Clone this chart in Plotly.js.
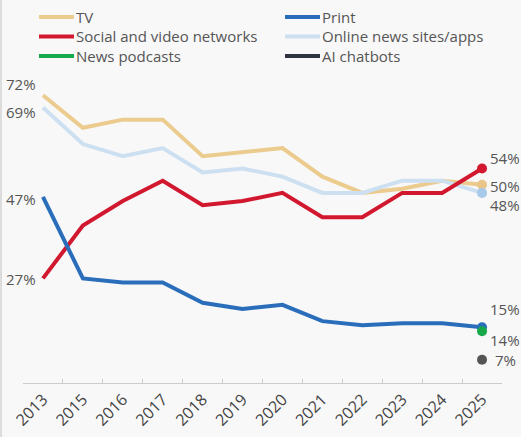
<!DOCTYPE html>
<html>
<head>
<meta charset="utf-8">
<script src="https://cdn.plot.ly/plotly-3.0.1.min.js"></script>
<style>
html,body{margin:0;padding:0;background:#f8f8f8;}
#chart{width:521px;height:437px;}
#edge{position:absolute;left:0;top:0;width:2px;height:437px;background:#dcdcdc;}
</style>
</head>
<body>
<div id="chart"></div>
<div id="edge"></div>
<script>
const years = ['2013','2015','2016','2017','2018','2019','2020','2021','2022','2023','2024','2025'];
const tv      = [72, 64, 66, 66, 57, 58, 59, 52, 48, 49, 51, 50];
const social  = [27, 40, 46, 51, 45, 46, 48, 42, 42, 48, 48, 54];
const online  = [69, 60, 57, 59, 53, 54, 52, 48, 48, 51, 51, 48];
const print   = [47, 27, 26, 26, 21, 19.5, 20.5, 16.5, 15.5, 16, 16, 15];
const podcastYears = ['2025'];
const podcasts = [14];
const aiYears = ['2025'];
const aiChatbots = [7];
const seriesNames = ['TV', 'Print', 'Social and video networks', 'Online news sites/apps', 'News podcasts', 'AI chatbots'];

const C = {
  tv: '#ebcb8e', tvDot: '#eac58a',
  print: '#2a6ebb',
  social: '#d2182f',
  online: '#cde0f1', onlineDot: '#a7c9ea',
  podcasts: '#16a84a',
  ai: '#2d3440', aiDot: '#555555'
};
const legendColors = [C.tv, C.print, C.social, C.online, C.podcasts, C.ai];

const last = a => a[a.length - 1];
const lastIdx = years.length - 1;
const lastYear = years[lastIdx];

function lineTrace(name, x, y, color) {
  return {type: 'scatter', mode: 'lines', name: name, x: x, y: y,
    line: {color: color, width: 4}, hoverinfo: 'skip', showlegend: false};
}
function dotTrace(x, y, color) {
  return {type: 'scatter', mode: 'markers', x: x, y: y, showlegend: false,
    marker: {color: color, size: 10}, hoverinfo: 'skip'};
}

const data = [
  lineTrace(seriesNames[0], years, tv, C.tv),
  lineTrace(seriesNames[3], years, online, C.online),
  lineTrace(seriesNames[2], years, social, C.social),
  lineTrace(seriesNames[1], years, print, C.print),
  dotTrace([lastYear], [last(tv)], C.tvDot),
  dotTrace([lastYear], [last(online)], C.onlineDot),
  dotTrace([lastYear], [last(social)], C.social),
  dotTrace([lastYear], [last(print)], C.print),
  dotTrace(podcastYears, podcasts, C.podcasts),
  dotTrace(aiYears, aiChatbots, C.aiDot)
];

// plot area geometry (pixels)
const W = 521, H = 437, ML = 23, MR = 19, MT = 83, MB = 54;
const PW = W - ML - MR, PH = H - MT - MB;
const px2x = p => (p - ML) / PW;
const py2y = p => (H - MB - p) / PH;

const lblFont = {family: 'Open Sans, Noto Sans, sans-serif', size: 15, color: '#555'};
function lbl(i, y, side, dy, dx) {
  return {x: i, y: y, xref: 'x', yref: 'y', text: Math.round(y) + '%', showarrow: false,
    xanchor: side === 'l' ? 'right' : 'left', yanchor: 'middle', borderpad: 0,
    xshift: side === 'l' ? -6 : (dx || 7), yshift: dy, font: lblFont};
}
const annotations = [
  lbl(0, tv[0], 'l', 11),
  lbl(0, online[0], 'l', -5),
  lbl(0, print[0], 'l', -2),
  lbl(0, social[0], 'l', -1),
  lbl(lastIdx, last(social), 'r', 10),
  lbl(lastIdx, last(tv), 'r', -1),
  lbl(lastIdx, last(online), 'r', -12),
  lbl(lastIdx, last(print), 'r', 18),
  lbl(lastIdx, podcasts[0], 'r', -9),
  lbl(lastIdx, aiChatbots[0], 'r', 0, 12)
];

// manual two-column legend
const shapes = [];
const colX = [39, 285];
const rowY = [17, 36.5, 56];
seriesNames.forEach((name, k) => {
  const col = k % 2, row = Math.floor(k / 2);
  const x0 = colX[col], y0 = rowY[row];
  shapes.push({type: 'line', xref: 'paper', yref: 'paper',
    x0: px2x(x0), x1: px2x(x0 + 35), y0: py2y(y0), y1: py2y(y0),
    line: {color: legendColors[k], width: 4}});
  annotations.push({xref: 'paper', yref: 'paper', x: px2x(x0 + 36), y: py2y(y0),
    xanchor: 'left', yanchor: 'middle', showarrow: false, text: name, borderpad: 0,
    font: {family: 'Open Sans, Noto Sans, sans-serif', size: 15, color: '#555'}});
});

const layout = {
  width: W, height: H,
  paper_bgcolor: '#f8f8f8', plot_bgcolor: '#f8f8f8',
  margin: {l: ML, r: MR, t: MT, b: MB},
  font: {family: 'Open Sans, Noto Sans, sans-serif', color: '#555'},
  showlegend: false,
  xaxis: {type: 'category', categoryorder: 'array', categoryarray: years,
    range: [-0.5, 11.5], showgrid: false, zeroline: false,
    showline: true, linecolor: '#cccccc', linewidth: 1,
    ticks: 'inside', ticklen: 4, tickcolor: '#cccccc', tickson: 'boundaries',
    tickangle: -45, tickfont: {size: 16, color: '#444'}},
  yaxis: {range: [1.3, 75], visible: false, showgrid: false, zeroline: false},
  annotations: annotations,
  shapes: shapes
};

Plotly.newPlot('chart', data, layout, {displayModeBar: false, staticPlot: true});
</script>
</body>
</html>
